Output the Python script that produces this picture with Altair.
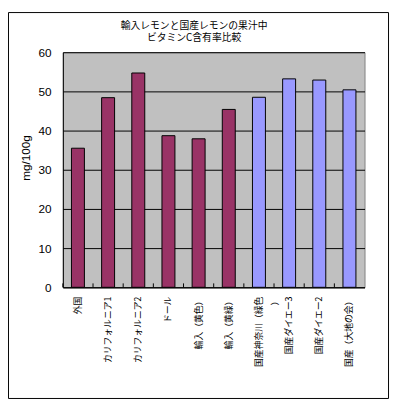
import altair as alt
import pandas as pd

categories = ["外国", "カリフォルニア1", "カリフォルニア2", "ドール", "輸入（黄色）", "輸入（黄緑）",
              "国産神奈川（緑色）", "国産ダイエー3", "国産ダイエー2", "国産（大地の会）"]
values = [35.5, 48.4, 54.7, 38.7, 37.9, 45.4, 48.5, 53.2, 52.9, 50.4]
groups = ["輸入"] * 6 + ["国産"] * 4
title_lines = ["輸入レモンと国産レモンの果汁中", "ビタミンC含有率比較"]
y_title = "mg/100g"
y_ticks = [0, 10, 20, 30, 40, 50, 60]

df = pd.DataFrame({"cat": categories, "val": values, "grp": groups})
one = pd.DataFrame({"k": [0]})

JP = "Noto Sans CJK JP"

xscale = alt.Scale(paddingInner=0.57, paddingOuter=0.285)
yscale = alt.Scale(domain=[0, 60])
xaxis = alt.Axis(labelAngle=270, labelFont=JP, labelFontSize=9, labelColor="black",
                 labelPadding=9, ticks=False, domainColor="black", domainWidth=1,
                 labelLineHeight=16, labelLimit=0, labelOverlap=False,
                 labelExpr="datum.label == '国産神奈川（緑色）' ? ['国産神奈川（緑色', '）\u3000\u3000\u3000\u3000'] : datum.label")

bars = alt.Chart(df).mark_bar(stroke="black", strokeWidth=1).encode(
    x=alt.X("cat:N", sort=categories, scale=xscale, title=None, axis=xaxis),
    y=alt.Y("val:Q", scale=yscale, title=None,
            axis=alt.Axis(values=y_ticks, labelFont="Liberation Sans", labelOverlap=False,
                          labelFontSize=12, labelColor="black", labelPadding=12, ticks=False,
                          grid=True, gridColor="black", gridWidth=1,
                          domainColor="black", domainWidth=1)),
    color=alt.Color("grp:N", scale=alt.Scale(domain=["輸入", "国産"], range=["#993366", "#9999FF"]),
                    legend=None),
)

xticks = alt.Chart(df).mark_rule(color="black", xOffset=-8.78).encode(
    x=alt.X("cat:N", sort=categories, scale=xscale, bandPosition=0, title=None, axis=xaxis),
    y=alt.value(240),
    y2=alt.value(236),
)

t1 = alt.Chart(one).mark_text(text=title_lines[0], font=JP, fontSize=10, color="black",
                              align="center", baseline="middle").encode(
    x=alt.value(134), y=alt.value(-27))
t2 = alt.Chart(one).mark_text(text=title_lines[1], font=JP, fontSize=10, color="black",
                              align="center", baseline="middle").encode(
    x=alt.value(134), y=alt.value(-14))
yt = alt.Chart(one).mark_text(text=y_title, font="Liberation Sans", fontSize=12, color="black",
                              angle=270, align="center", baseline="middle").encode(
    x=alt.value(-37.5), y=alt.value(108))

border = alt.Chart(one).mark_rect(fill=None, stroke="black", strokeWidth=1).encode(
    x=alt.value(-55.5), x2=alt.value(332.5), y=alt.value(-40.5), y2=alt.value(353.5))

chart = alt.layer(bars, xticks, t1, t2, yt, border).properties(
    width=308, height=240,
    autosize=alt.AutoSizeParams(type="none"),
    padding={"left": 56, "top": 41, "right": 26, "bottom": 115},
    background="white",
).configure_view(fill="#C0C0C0", stroke="#808080", strokeWidth=1)

chart.save("out.html", embed_options={"renderer": "svg", "actions": False})
